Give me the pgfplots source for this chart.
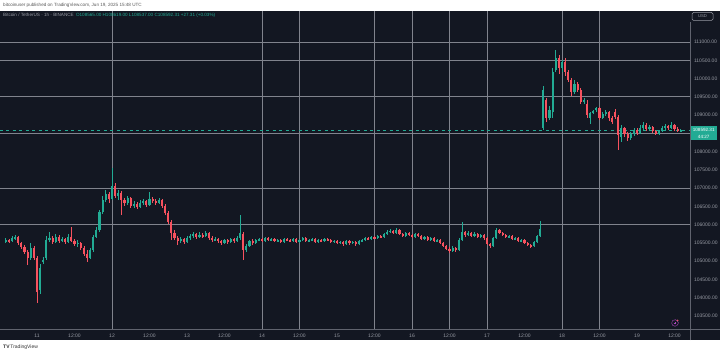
\documentclass[border=0pt]{standalone}
\usepackage{pgfplots}
\usepackage{pgfplotstable}
\pgfplotsset{compat=1.18}
\usepackage{fontspec}
\setmainfont{Liberation Sans}
\definecolor{bg}{RGB}{19,23,34}
\definecolor{upc}{RGB}{34,171,148}
\definecolor{dnc}{RGB}{247,82,95}
\definecolor{gridc}{RGB}{128,131,141}
\definecolor{axc}{RGB}{96,99,110}
\definecolor{lbl}{RGB}{150,153,162}
\definecolor{hdr}{RGB}{90,90,90}
\definecolor{purp}{RGB}{171,71,188}

\pgfplotstableread{
t o h l c
-10 105554 105636 105499 105581
-9 105581 105609 105499 105554
-8 105554 105691 105527 105636
-7 105636 105718 105581 105663
-6 105663 105691 105444 105499
-5 105499 105527 105335 105390
-4 105390 105444 105198 105253
-3 105253 105308 104897 105088
-2 105088 105499 105034 105362
-1 105362 105417 105034 105088
0 105088 105143 103857 104158
1 104213 104924 104103 104815
2 104979 105116 104924 105034
3 105088 105691 105034 105581
4 105581 105800 105527 105636
5 105636 105691 105472 105527
6 105527 105745 105499 105663
7 105663 105718 105499 105554
8 105554 105663 105527 105609
9 105609 105636 105472 105527
10 105527 105745 105499 105663
11 105663 105937 105527 105554
12 105554 105609 105417 105472
13 105472 105581 105390 105499
14 105499 105527 105308 105362
15 105362 105417 105143 105198
16 105198 105308 104979 105088
17 105088 105362 105061 105308
18 105308 105718 105253 105663
19 105663 105937 105636 105855
20 105855 106402 105800 106348
21 106348 106786 106293 106676
22 106676 106950 106621 106840
23 106840 106895 106594 106704
24 106704 107552 106676 107059
25 107059 107141 106731 106786
26 106786 106950 106676 106868
27 106868 106922 106265 106676
28 106676 106731 106512 106594
29 106594 106786 106539 106731
30 106731 106758 106457 106512
31 106512 106649 106457 106567
32 106567 106621 106430 106484
33 106484 106676 106457 106594
34 106594 106704 106539 106649
35 106649 106676 106484 106539
36 106539 106895 106512 106704
37 106704 106758 106594 106649
38 106649 106704 106539 106594
39 106594 106731 106567 106676
40 106676 106704 106457 106512
41 106512 106567 106265 106320
42 106320 106375 106019 106074
43 106074 106129 105581 105773
44 105773 105855 105581 105636
45 105636 105691 105444 105554
46 105554 105663 105499 105609
47 105609 105636 105472 105527
48 105527 105691 105499 105636
49 105636 105745 105581 105691
50 105691 105800 105636 105745
51 105745 105773 105609 105663
52 105663 105800 105636 105718
53 105718 105773 105636 105691
54 105691 105828 105663 105773
55 105773 105800 105581 105636
56 105636 105691 105527 105581
57 105581 105663 105554 105609
58 105609 105636 105499 105554
59 105554 105581 105444 105499
60 105499 105609 105472 105581
61 105581 105609 105472 105527
62 105527 105636 105499 105609
63 105609 105636 105499 105554
64 105554 105691 105527 105636
65 105636 106265 105581 105773
66 105745 105800 105034 105308
67 105308 105472 105253 105417
68 105417 105581 105390 105554
69 105554 105609 105444 105499
70 105499 105609 105472 105581
71 105581 105636 105554 105609
72 105609 105636 105527 105554
73 105554 105663 105527 105636
74 105636 105663 105554 105581
75 105581 105636 105554 105609
76 105609 105636 105527 105554
77 105554 105609 105527 105581
78 105581 105609 105499 105527
79 105527 105636 105499 105609
80 105609 105636 105554 105581
81 105581 105609 105527 105554
82 105554 105636 105527 105609
83 105609 105636 105499 105527
84 105527 105609 105499 105581
85 105581 105663 105554 105636
86 105636 105663 105527 105554
87 105554 105609 105527 105581
88 105581 105636 105554 105609
89 105609 105636 105499 105527
90 105527 105609 105499 105581
91 105581 105609 105527 105554
92 105554 105636 105527 105609
93 105609 105636 105554 105581
94 105581 105609 105499 105527
95 105527 105581 105499 105554
96 105554 105581 105472 105499
97 105499 105554 105472 105527
98 105527 105554 105417 105472
99 105472 105581 105444 105554
100 105554 105581 105444 105499
101 105499 105554 105472 105527
102 105527 105554 105417 105472
103 105472 105581 105444 105554
104 105554 105609 105527 105581
105 105581 105663 105554 105636
106 105636 105663 105581 105609
107 105609 105691 105581 105663
108 105663 105691 105609 105636
109 105636 105718 105609 105691
110 105691 105718 105636 105663
111 105663 105773 105636 105745
112 105745 105855 105718 105800
113 105800 105882 105773 105828
114 105828 105855 105745 105773
115 105773 105910 105745 105855
116 105855 105882 105718 105745
117 105745 105773 105663 105691
118 105691 105800 105663 105773
119 105773 105800 105691 105718
120 105718 105745 105636 105663
121 105663 105773 105636 105745
122 105745 105773 105663 105691
123 105691 105718 105581 105609
124 105609 105691 105581 105663
125 105663 105691 105554 105581
126 105581 105663 105554 105636
127 105636 105663 105527 105554
128 105554 105609 105527 105581
129 105581 105609 105472 105499
130 105499 105527 105390 105417
131 105417 105444 105308 105335
132 105335 105390 105225 105280
133 105280 105417 105253 105362
134 105362 105390 105253 105308
135 105308 105636 105280 105581
136 105581 106074 105554 105800
137 105800 105828 105663 105718
138 105718 105828 105691 105773
139 105773 105800 105663 105691
140 105691 105800 105663 105745
141 105745 105773 105636 105663
142 105663 105745 105636 105718
143 105718 105745 105581 105636
144 105636 105663 105444 105472
145 105472 105499 105362 105417
146 105417 105663 105390 105636
147 105636 105910 105609 105855
148 105855 105882 105745 105773
149 105773 105800 105691 105718
150 105718 105745 105636 105663
151 105663 105718 105636 105691
152 105691 105718 105581 105609
153 105609 105663 105581 105636
154 105636 105663 105527 105554
155 105554 105609 105527 105581
156 105581 105609 105472 105499
157 105499 105527 105417 105444
158 105444 105472 105362 105417
159 105417 105554 105390 105527
160 105527 105718 105499 105691
161 105691 106101 105663 105882
162 108647 109796 108592 109687
163 109413 109468 108811 108920
164 108920 109249 108866 109139
165 109085 110289 108920 110180
166 110234 110781 110180 110563
167 110563 110645 110125 110289
168 110289 110508 110180 110453
169 110453 110563 110070 110180
170 110180 110234 109906 109960
171 109960 110015 109523 109632
172 109632 109960 109577 109851
173 109851 109906 109632 109687
174 109687 109741 109304 109358
175 109358 109468 109304 109413
176 109304 109413 108920 109003
177 108920 109085 108756 109057
178 109057 109139 109030 109112
179 109139 109221 109085 109194
180 109194 109221 108866 108920
181 108920 109085 108893 109030
182 109030 109139 108975 109085
183 109085 109112 108838 108920
184 108920 108975 108756 108811
185 109085 109167 108893 108948
186 108948 109003 108045 108455
187 108400 108729 108263 108647
188 108647 108674 108400 108482
189 108482 108537 108291 108373
190 108373 108537 108318 108482
191 108482 108647 108428 108592
192 108592 108647 108455 108510
193 108510 108729 108482 108647
194 108647 108811 108592 108729
195 108729 108784 108565 108619
196 108619 108729 108565 108674
197 108674 108701 108510 108565
198 108565 108592 108455 108482
199 108482 108592 108455 108565
200 108565 108701 108537 108647
201 108647 108756 108592 108701
202 108701 108729 108592 108647
203 108647 108811 108619 108729
204 108729 108756 108565 108619
205 108619 108674 108537 108592
206 108565 108619 108537 108592
}\candles

\pgfplotsset{
  candle/.style n args={3}{draw=none, mark=none,
    restrict expr to domain={\thisrow{c}-\thisrow{o}}{#1},
    error bars/.cd, y dir=both, y explicit, error mark=none,
    error bar style={draw=#2, solid, line width=#3}},
}

\begin{document}
\begin{tikzpicture}[x=1pt,y=1pt]
\useasboundingbox (0,0) rectangle (720,354);
\fill[white] (0,0) rectangle (720,354);
\fill[bg] (0,14) rectangle (720,343);

\begin{axis}[
  at={(0pt,25pt)}, anchor=south west,
  scale only axis, width=690pt, height=318pt,
  xmin=-11.84, xmax=208.96,
  ymin=103145, ymax=111849,
  axis line style={draw=none},
  major tick length=0pt,
  xtick={0,12,...,204},
  xticklabels={11,12:00,12,12:00,13,12:00,14,12:00,15,12:00,16,12:00,17,12:00,18,12:00,19,12:00},
  xticklabel style={font=\fontsize{5}{6}\selectfont, text=lbl, anchor=base, yshift=-8pt},
  ytick={103500,104000,104500,105000,105500,106000,106500,107000,107500,108000,109000,109500,110000,110500,111000},
  yticklabel pos=right,
  yticklabel style={font=\fontsize{5}{6}\selectfont, text=lbl, anchor=west, xshift=0.5pt,
    /pgf/number format/.cd, fixed, fixed zerofill, precision=2, 1000 sep={}, assume math mode=true},
  scaled y ticks=false,
  extra x ticks={24,72,84,108,120,132,144,168,180},
  extra x tick labels={},
  extra y ticks={106000,107000,108500,109500,110500,111000},
  extra y tick labels={},
  extra tick style={grid=major, major grid style={draw=gridc, line width=0.9pt}},
]
% current price dashed line
\addplot[upc, line width=0.9pt, dash pattern=on 3pt off 3.5pt] coordinates {(-12,108592) (209,108592)};
% up candles: wicks and bodies
\addplot[candle={0:100000}{upc}{0.7pt}]
  table[x=t, y expr={(\thisrow{h}+\thisrow{l})/2}, y error expr={(\thisrow{h}-\thisrow{l})/2}] {\candles};
\addplot[candle={0:100000}{upc}{2.2pt}]
  table[x=t, y expr={(\thisrow{o}+\thisrow{c})/2}, y error expr={abs(\thisrow{c}-\thisrow{o})/2}] {\candles};
% down candles
\addplot[candle={-100000:-0.5}{dnc}{0.7pt}]
  table[x=t, y expr={(\thisrow{h}+\thisrow{l})/2}, y error expr={(\thisrow{h}-\thisrow{l})/2}] {\candles};
\addplot[candle={-100000:-0.5}{dnc}{2.2pt}]
  table[x=t, y expr={(\thisrow{o}+\thisrow{c})/2}, y error expr={abs(\thisrow{c}-\thisrow{o})/2}] {\candles};
\end{axis}

% axis separators
\draw[axc, line width=0.9pt] (0,25) -- (720,25);
\draw[axc, line width=0.9pt] (690,14) -- (690,332);

% header
\node[anchor=west, inner sep=0, text=hdr, font=\fontsize{4.6}{5}\selectfont] at (3,349)
  {bitcoinuser published on TradingView.com, Jun 19, 2025 15:48 UTC};
\node[anchor=west, inner sep=0, font=\fontsize{4.6}{5}\selectfont] at (3,339)
  {\textcolor{lbl}{Bitcoin / TetherUS · 1h · BINANCE}\enspace\textcolor{upc}{O108565.00 H108619.00 L108537.00 C108592.31 +27.31 (+0.03\%)}};

% USD box
\draw[lbl, line width=0.5pt, rounded corners=1.5pt] (692,333.5) rectangle (713,341.5);
\node[text=lbl, font=\fontsize{4.2}{5}\selectfont, inner sep=0] at (702.5,337.5) {USD};

% price box
\fill[upc] (691,213.5) rectangle (716.5,228);
\node[text=white, font=\fontsize{4.6}{5}\selectfont, inner sep=0] at (703.7,224) {108592.31};
\node[text=white, font=\fontsize{4.6}{5}\selectfont, inner sep=0] at (703.7,217.5) {44:27};

% purple icon
\draw[purp, line width=0.6pt, dash pattern=on 0.8pt off 0.6pt] (675,31) circle (3.3);
\draw[purp, line width=0.5pt] (673.6,31) -- (676.4,31) (675,29.6) -- (675,32.4);
\fill[dnc] (677.6,33.6) circle (0.9);

% footer logo
\node[anchor=west, inner sep=0, text=black!80, font=\fontsize{5}{6}\selectfont] at (3,7)
  {\textbf{TV}\,TradingView};
\end{tikzpicture}
\end{document}
